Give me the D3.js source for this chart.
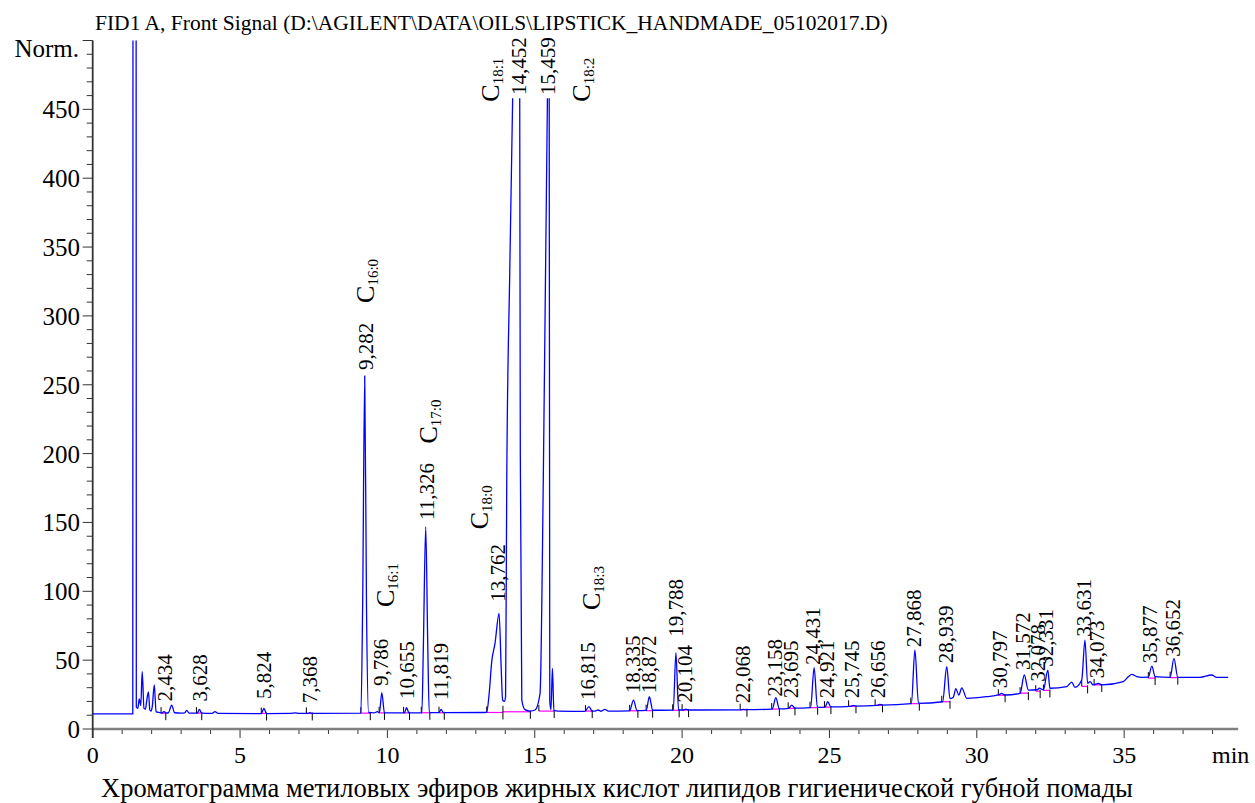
<!DOCTYPE html>
<html>
<head>
<meta charset="utf-8">
<script src="https://cdn.jsdelivr.net/npm/d3@7"></script>
<style>
    html, body { margin: 0; padding: 0; background: #fff; }
    svg { display: block; }
</style>
</head>
<body>
<div id="chart"></div>
<script>
// ===================================
// DATA
// ===================================

// Detector trace: [retention time (min), signal (Norm.)]; null = pen lifted at a cut-off peak top
const signalPoints = [
    [0, 11.0], [1.36, 11.0], [1.38, 1500], [1.46, 1500], [1.48, 16], [1.53, 15], [1.58, 21.8],
    [1.61, 19], [1.63, 17], [1.68, 41.6], [1.74, 15], [1.79, 14.5], [1.83, 20], [1.89, 27],
    [1.94, 13.8], [1.98, 13], [2.02, 16], [2.09, 32], [2.15, 12.6], [2.25, 12], [2.34, 11.6],
    [2.42, 12.6], [2.5, 11.6], [2.57, 11.8], [2.68, 17.4], [2.78, 11.8], [3.0, 11.5], [3.12, 11.7],
    [3.19, 13.5], [3.27, 11.6], [3.55, 11.5], [3.62, 14.3], [3.7, 11.6], [4.05, 11.4], [4.15, 12.6],
    [4.25, 11.4], [5.72, 11.2], [5.81, 15], [5.9, 11.2], [6.7, 11.3], [6.87, 11.7], [7.0, 11.3],
    [7.3, 11.3], [7.37, 11.9], [7.45, 11.3], [9.1, 11.5], [9.16, 90], [9.23, 256.4], [9.29, 90],
    [9.36, 12], [9.55, 11.7], [9.66, 12.6], [9.73, 11.8], [9.81, 26.4], [9.9, 11.8], [10.58, 11.7],
    [10.65, 15.5], [10.73, 11.7], [11.17, 11.8], [11.22, 60], [11.30, 146.7], [11.37, 60],
    [11.42, 12], [11.75, 11.9], [11.82, 14.3], [11.9, 11.9], [13.3, 12], [13.37, 12.3],
    [13.45, 25], [13.54, 48.9], [13.65, 62], [13.79, 84], [13.86, 45], [13.91, 21], [13.97, 20],
    [14.01, 23.5], [14.05, 181], [14.15, 330], [14.25, 458], [14.37, null], [14.49, 458],
    [14.51, 200], [14.56, 21], [14.67, 14.1], [14.85, 13], [15.01, 13.8], [15.18, 25.9],
    [15.29, 181], [15.43, 458], [15.46, null], [15.49, 458], [15.51, 20], [15.55, 14], [15.6, 44],
    [15.65, 13.5], [15.8, 13], [16.7, 12.8], [16.84, 16.2], [16.95, 13], [17.05, 13],
    [17.15, 13.8], [17.25, 12.9], [17.38, 14.3], [17.5, 13], [18.22, 13.2], [18.35, 21],
    [18.47, 13.3], [18.78, 13.5], [18.89, 23.5], [19.0, 13.6], [19.7, 13.7], [19.79, 55.4],
    [19.88, 13.8], [20.05, 13.8], [20.13, 14.5], [20.22, 13.8], [21.97, 13.9], [22.08, 14.3],
    [22.19, 14.0], [23.06, 14.5], [23.18, 22.7], [23.30, 14.6], [23.62, 15], [23.72, 17.4],
    [23.83, 15.1], [24.36, 15.5], [24.48, 44.5], [24.59, 15.7], [24.85, 15.9], [24.94, 19.8],
    [25.05, 16], [25.72, 16.5], [25.81, 17.2], [25.9, 16.6], [26.63, 17.2], [26.71, 17.9],
    [26.8, 17.4], [27.78, 18.4], [27.90, 57.4], [28.02, 18.6], [28.84, 19.8], [28.98, 45.2],
    [29.09, 22], [29.2, 23], [29.29, 29.3], [29.39, 24.7], [29.49, 29.8], [29.66, 22.3],
    [30.34, 23.5], [30.73, 24.7], [30.84, 25.9], [30.96, 24.7], [31.47, 25.9], [31.61, 39.2],
    [31.75, 28.3], [32.05, 28.5], [32.12, 29.6], [32.26, 28.5], [32.41, 42.8], [32.48, 29.6],
    [33.05, 30.7], [33.22, 34], [33.33, 30.3], [33.56, 35.6], [33.67, 64.6], [33.76, 33.2],
    [33.84, 34.4], [33.95, 32], [34.13, 33.2], [34.24, 32], [34.97, 34.4], [35.14, 38],
    [35.26, 39.7], [35.43, 38], [35.6, 37.5], [35.82, 37.6], [35.94, 45.7], [36.05, 38],
    [36.56, 37.5], [36.69, 51.3], [36.82, 37.5], [37.57, 37.5], [37.97, 39.2], [38.14, 37.5],
    [38.53, 37.5]
];

// Integrated peaks: retention-time label, label foot level, integration start/end, baseline level
const peakTimes = [2.434, 3.628, 5.824, 7.368, 9.282, 9.786, 10.655, 11.326, 11.819, 13.762,
    14.452, 15.459, 16.815, 18.335, 18.872, 19.788, 20.104, 22.068, 23.158, 23.695, 24.431,
    24.921, 25.745, 26.656, 27.868, 28.939, 30.797, 31.572, 32.078, 32.331, 33.631, 34.073,
    35.877, 36.652];
const peakLabelLevels = [20, 20, 21.8, 18.7, 260.7, 31.2, 21.8, 151.8, 21.1, 92.4,
    460.4, 460.4, 21.1, 25.9, 25.9, 67, 19.1, 18.7, 23.5, 22.3, 46.5,
    22.3, 22.3, 22.3, 59.3, 47.7, 29.6, 42.8, 34.4, 45.2, 67, 36.8,
    47.7, 52.5];
const peakStarts = [2.32, 3.52, 5.72, 7.25, 9.10, 9.72, 10.55, 11.15, 11.75, 13.37,
    13.92, 15.14, 16.72, 18.22, 18.78, 19.68, 20.0, 21.97, 23.04, 23.6, 24.34,
    24.83, 25.65, 26.55, 27.76, 28.81, 30.73, 31.47, 32.0, 32.26, 33.56, 33.98,
    35.82, 36.56];
const peakEnds = [2.48, 3.70, 5.90, 7.45, 9.42, 9.90, 10.75, 11.44, 11.93, 13.92,
    14.85, 15.66, 16.95, 18.5, 19.0, 19.9, 20.22, 22.2, 23.3, 23.83, 24.6,
    25.05, 25.9, 26.8, 28.05, 29.09, 30.96, 31.75, 32.15, 32.48, 33.76, 34.24,
    36.05, 36.82];
const peakBases = [11.5, 11.5, 11.3, 11.3, 11.5, 11.7, 11.7, 11.8, 11.8, 12,
    12.5, 13, 13, 13.2, 13.3, 13.6, 13.7, 14, 14.5, 15, 15.5,
    15.9, 16.5, 17.2, 18.4, 19.8, 24.5, 26, 27.5, 28, 31, 32,
    37, 37.3];

// Fatty-acid annotations (C + subscript), anchored in data units
const compoundSubs = ["16:0", "16:1", "17:0", "18:0", "18:1", "18:2", "18:3"];
const compoundTimes = [9.26, 9.92, 11.38, 13.12, 13.48, 16.59, 16.93];
const compoundLevels = [309.4, 88.6, 207.3, 145, 455.6, 455.6, 86.4];

// Axis ticks
const xTickValues = d3.range(0, 39, 1);
const xLabelValues = [0, 5, 10, 15, 20, 25, 30, 35];
const yTickValues = d3.range(0, 501, 10);
const yLabelValues = [0, 50, 100, 150, 200, 250, 300, 350, 400, 450];

const titleText = "FID1 A, Front Signal (D:\\AGILENT\\DATA\\OILS\\LIPSTICK_HANDMADE_05102017.D)";
const captionText = "Хроматограмма метиловых эфиров жирных кислот липидов гигиенической губной помады";

(function() {
    // ===================================
    // CHART CONFIGURATION
    // ===================================
    const W = 1255, H = 803;
    const plot = { left: 92.7, right: 1233.2, top: 40.5, bottom: 729 };
    const serif = "'Liberation Serif', 'DejaVu Serif', serif";

    const svg = d3.select("#chart").append("svg")
        .attr("width", W)
        .attr("height", H)
        .attr("font-family", serif);

    const x = d3.scaleLinear().domain([0, 38.7]).range([plot.left, plot.right]);
    const y = d3.scaleLinear().domain([0, 500]).range([plot.bottom, plot.top]);

    svg.append("defs").append("clipPath")
        .attr("id", "plot-clip")
        .append("rect")
        .attr("x", plot.left)
        .attr("y", plot.top)
        .attr("width", plot.right - plot.left)
        .attr("height", plot.bottom - plot.top);

    // ===================================
    // TITLE + CAPTION
    // ===================================
    svg.append("text")
        .attr("x", 95)
        .attr("y", 30)
        .attr("font-size", "21.5px")
        .text(titleText);

    svg.append("text")
        .attr("x", 617)
        .attr("y", 797)
        .attr("text-anchor", "middle")
        .attr("font-size", "26.5px")
        .text(captionText);

    // ===================================
    // AXES
    // ===================================
    const tickColor = "#333";

    // x axis: minor every minute, major every 5
    const xAxis = svg.append("g").attr("class", "x-axis");
    xAxis.selectAll("line.tick")
        .data(xTickValues)
        .join("line")
        .attr("class", "tick")
        .attr("x1", d => x(d)).attr("x2", d => x(d))
        .attr("y1", y(0))
        .attr("y2", d => y(0) + (d % 5 === 0 ? 9 : 5))
        .attr("stroke", tickColor)
        .attr("stroke-width", 1);
    xAxis.append("line")
        .attr("x1", plot.left).attr("x2", plot.right + 5)
        .attr("y1", y(0)).attr("y2", y(0))
        .attr("stroke", "#808080")
        .attr("stroke-width", 2.6);
    xAxis.selectAll("text.lbl")
        .data(xLabelValues)
        .join("text")
        .attr("class", "lbl")
        .attr("x", d => x(d))
        .attr("y", 763)
        .attr("text-anchor", "middle")
        .attr("font-size", "24px")
        .text(d => d);
    xAxis.append("text")
        .attr("x", 1212)
        .attr("y", 763)
        .attr("font-size", "24px")
        .text("min");

    // y axis: minor every 10, major every 50
    const yAxis = svg.append("g").attr("class", "y-axis");
    yAxis.selectAll("line.tick")
        .data(yTickValues)
        .join("line")
        .attr("class", "tick")
        .attr("x1", d => plot.left - (d % 50 === 0 ? 10 : 6))
        .attr("x2", plot.left)
        .attr("y1", d => y(d)).attr("y2", d => y(d))
        .attr("stroke", tickColor)
        .attr("stroke-width", 1);
    yAxis.append("line")
        .attr("x1", plot.left).attr("x2", plot.left)
        .attr("y1", plot.top).attr("y2", y(0) + 9)
        .attr("stroke", tickColor)
        .attr("stroke-width", 1.8);
    yAxis.selectAll("text.lbl")
        .data(yLabelValues)
        .join("text")
        .attr("class", "lbl")
        .attr("x", 80)
        .attr("y", d => y(d))
        .attr("dy", "0.36em")
        .attr("text-anchor", "end")
        .attr("font-size", "25px")
        .text(d => d);
    yAxis.append("text")
        .attr("x", 79)
        .attr("y", 57)
        .attr("text-anchor", "end")
        .attr("font-size", "25px")
        .text("Norm.");

    // ===================================
    // INTEGRATION BASELINES + MARKS
    // ===================================
    const marks = svg.append("g").attr("clip-path", "url(#plot-clip)");
    const peaks = peakTimes.map((t, i) => ({
        t, label: d3.format(".3f")(t).replace(".", ","),
        level: peakLabelLevels[i], start: peakStarts[i], end: peakEnds[i], base: peakBases[i]
    }));

    marks.selectAll("line.base")
        .data(peaks)
        .join("line")
        .attr("class", "base")
        .attr("x1", d => x(d.start)).attr("x2", d => x(d.end))
        .attr("y1", d => y(d.base)).attr("y2", d => y(d.base))
        .attr("stroke", "#ff00ff")
        .attr("stroke-width", 1.2);

    marks.selectAll("line.start")
        .data(peaks)
        .join("line")
        .attr("class", "start")
        .attr("x1", d => x(d.start)).attr("x2", d => x(d.start))
        .attr("y1", d => y(d.base)).attr("y2", d => y(d.base) - 6)
        .attr("stroke", "#000");

    marks.selectAll("line.end")
        .data(peaks)
        .join("line")
        .attr("class", "end")
        .attr("x1", d => x(d.end)).attr("x2", d => x(d.end))
        .attr("y1", d => y(d.base) - 1).attr("y2", d => y(d.base) + 7)
        .attr("stroke", "#000");

    // ===================================
    // SIGNAL TRACE
    // ===================================
    const line = d3.line()
        .defined(d => d[1] !== null)
        .x(d => x(d[0]))
        .y(d => y(d[1]))
        .curve(d3.curveMonotoneX);

    svg.append("path")
        .datum(signalPoints)
        .attr("clip-path", "url(#plot-clip)")
        .attr("d", line)
        .attr("fill", "none")
        .attr("stroke", "#0000ff")
        .attr("stroke-width", 1.3);

    // ===================================
    // PEAK LABELS (rotated retention times)
    // ===================================
    svg.append("g").selectAll("text")
        .data(peaks)
        .join("text")
        .attr("transform", d => `translate(${x(d.t)},${y(d.level)}) rotate(-90)`)
        .attr("dy", "0.34em")
        .attr("font-size", "21px")
        .text(d => d.label);

    // ===================================
    // COMPOUND ANNOTATIONS
    // ===================================
    const comp = svg.append("g").selectAll("text")
        .data(compoundSubs.map((s, i) => ({ s, t: compoundTimes[i], v: compoundLevels[i] })))
        .join("text")
        .attr("transform", d => `translate(${x(d.t)},${y(d.v)}) rotate(-90)`)
        .attr("dy", "0.34em")
        .attr("font-size", "26px");
    comp.append("tspan").text("C");
    comp.append("tspan")
        .attr("dy", 4)
        .attr("font-size", "15px")
        .text(d => d.s);
})();
</script>
</body>
</html>
